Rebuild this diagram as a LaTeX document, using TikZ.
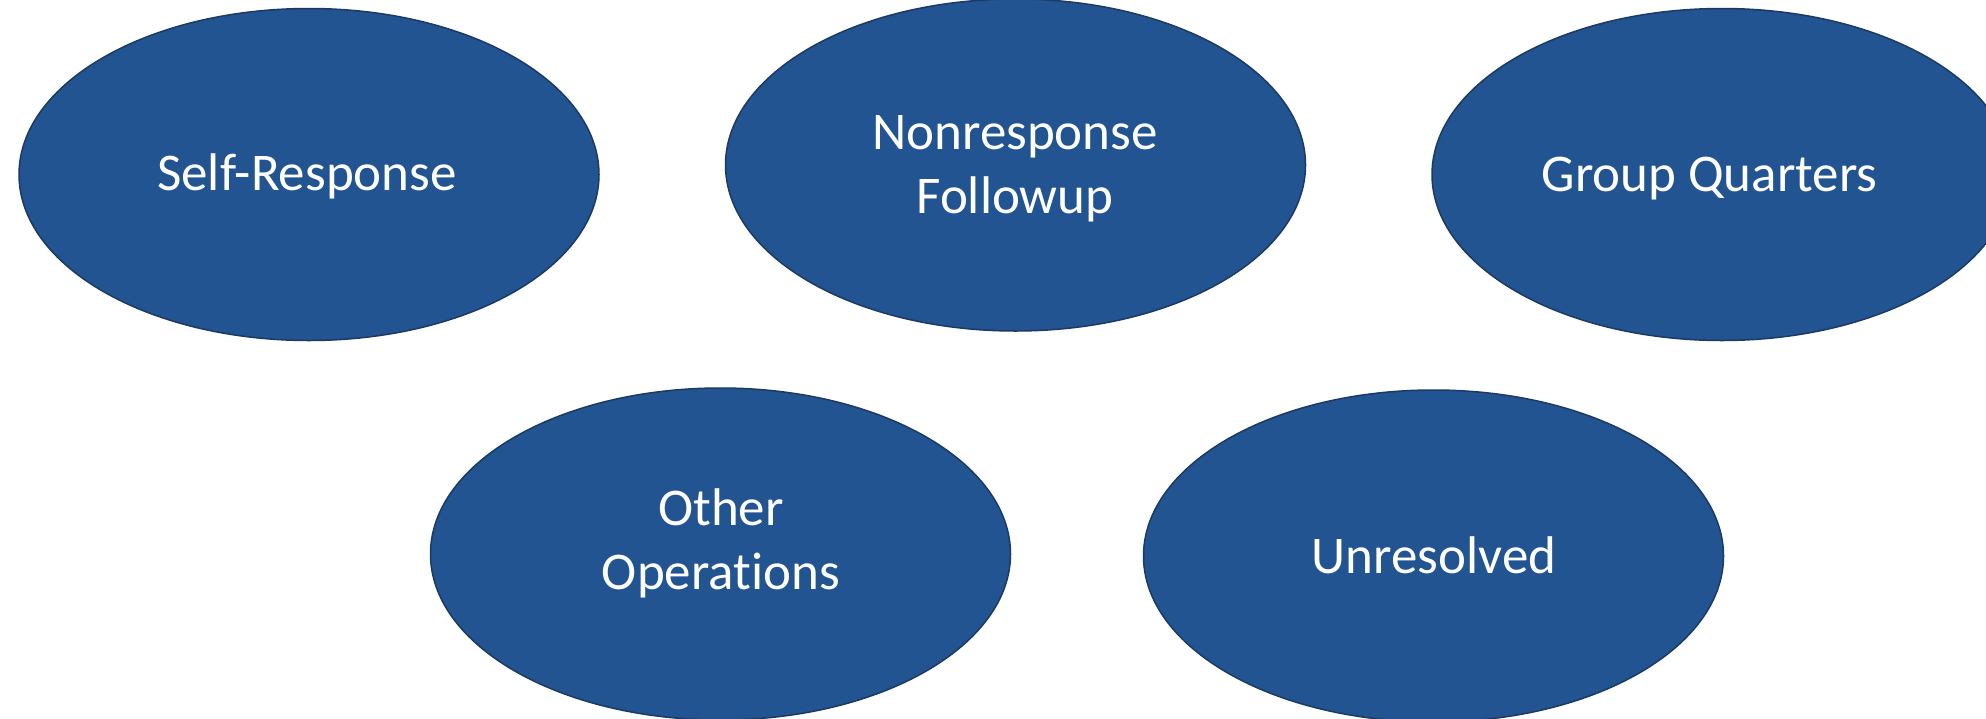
\documentclass[tikz,border=0pt]{standalone}
\usepackage{fontspec}
\setmainfont{Carlito}[Ligatures={NoCommon}]
\usetikzlibrary{shapes.geometric}
\definecolor{ovalfill}{RGB}{33,84,144}
\definecolor{ovaledge}{RGB}{28,58,100}
\begin{document}
\begin{tikzpicture}[x=1pt,y=-1pt,
  oval/.style={ellipse, draw=ovaledge, line width=1.5pt, fill=ovalfill,
    minimum width=580pt, minimum height=332pt, inner sep=0pt},
  lbl/.style={text=white, font=\fontsize{53}{64}\selectfont, align=center, inner sep=0pt}]
\useasboundingbox (0,0) rectangle (1986,718);
\clip (0,0) rectangle (1986,718);
\node[oval] (sr) at (309,174.5) {};
\node[oval] (nrfu) at (1015.5,165) {};
\node[oval] (gq) at (1722,174.5) {};
\node[oval] (oo) at (720.5,554) {};
\node[oval] (un) at (1433.5,556) {};
\node[lbl, anchor=base] (srt) at (307,190.7) {Self-Response};
\node[lbl, anchor=base] (nrfut) at (1015,213) {Nonresponse\\Followup};
\node[lbl, anchor=base] (gqt) at (1709.5,191.7) {Group Quarters};
\node[lbl, anchor=base] (oot) at (721,589) {Other\\Operations};
\node[lbl, anchor=base] (unt) at (1434,573.5) {Unresolved};
\end{tikzpicture}
\end{document}
